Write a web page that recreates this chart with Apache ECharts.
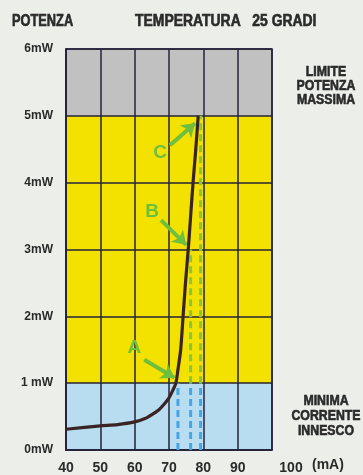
<!DOCTYPE html>
<html>
<head>
<meta charset="utf-8">
<script src="https://cdn.jsdelivr.net/npm/echarts@6/dist/echarts.min.js"></script>
<style>
html,body{margin:0;padding:0;background:#eceee9;}
#c{width:363px;height:475px;}
</style>
</head>
<body>
<div id="c"></div>
<script>
// ---- data ----
const xTicks = [40, 50, 60, 70, 80, 90, 100];
const yTickLabels = ['0mW', '1 mW', '2mW', '3mW', '4mW', '5mW', '6mW'];
const bandLimits = [0, 1, 5, 6];            // mW: blue / yellow / grey zones
const curveMA = [40, 50, 55, 60, 63, 65, 67, 68.5, 70, 71, 72, 72.6, 73.4, 74.1, 74.8, 75.6, 76.3, 77.0, 77.8, 78.5];
const curveMW = [0.31, 0.36, 0.38, 0.42, 0.47, 0.53, 0.6, 0.68, 0.78, 0.88, 1.0, 1.2, 1.5, 2.0, 2.5, 3.0, 3.5, 4.0, 4.5, 5.0];
const dropMA = [72.6, 76.3, 79.2];          // dashed drop lines A, B, C
const dropTopMW = [1.0, 3.0, 5.0];
const markNames = ['A', 'B', 'C'];
const markLabelMA = [59.9, 65.1, 67.4];
const markLabelMW = [1.53, 3.56, 4.44];
const arrowFromMA = [62.8, 67.7, 70.3];
const arrowFromMW = [1.35, 3.44, 4.56];
const arrowToMA = [71.6, 75.0, 77.6];
const arrowToMW = [1.08, 3.07, 4.89];
const arrowCurve = [0, 0, 0.4];
const sideLabels = ['LIMITE\nPOTENZA\nMASSIMA', 'MINIMA\nCORRENTE\nINNESCO'];

// ---- styles ----
const FONT = '"Liberation Sans",Arial,sans-serif';
const INK = '#2a2a2a';
const GRIDC = '#24223a';
const bandColors = ['#b9ddf0', '#f3e200', '#c1c1c1'];
const GREEN = '#6fbf3f';
const BLUE = '#45a6e4';
const DGREEN = '#86c53c';

const chart = echarts.init(document.getElementById('c'), null, {renderer: 'canvas'});

const series = [];

// bands
const bandAreas = [];
for (let i = 0; i < bandLimits.length - 1; i++) {
  bandAreas.push([
    {yAxis: bandLimits[i], xAxis: xTicks[0], itemStyle: {color: bandColors[i]}},
    {yAxis: bandLimits[i + 1], xAxis: xTicks[xTicks.length - 1]}
  ]);
}
series.push({
  type: 'line', z: 1, data: [[xTicks[0], 0]], showSymbol: false, silent: true,
  lineStyle: {opacity: 0},
  markArea: {silent: true, data: bandAreas, itemStyle: {opacity: 1}}
});

// dashed drop lines
for (let i = 0; i < dropMA.length; i++) {
  const blueTop = Math.min(dropTopMW[i], bandLimits[1]);
  series.push({
    type: 'line', z: 4, silent: true, showSymbol: false,
    data: [[dropMA[i], 0], [dropMA[i], blueTop]],
    lineStyle: {color: BLUE, width: 3, type: [7, 4]}
  });
  if (dropTopMW[i] > bandLimits[1]) {
    series.push({
      type: 'line', z: 4, silent: true, showSymbol: false,
      data: [[dropMA[i], bandLimits[1]], [dropMA[i], dropTopMW[i]]],
      lineStyle: {color: DGREEN, width: 3, type: [7, 4]}
    });
  }
}

// main curve
series.push({
  type: 'line', z: 5, silent: true, showSymbol: false, smooth: 0.25,
  data: curveMA.map((x, i) => [x, curveMW[i]]),
  lineStyle: {color: '#3a2323', width: 3.2}
});

// arrows (one series each so each can have its own curvature)
markNames.forEach((n, i) => {
  series.push({
    type: 'line', z: 6, silent: true, data: [], showSymbol: false,
    markLine: {
      silent: true, symbol: ['none', 'arrow'], symbolSize: [13, 13],
      label: {show: false},
      lineStyle: {color: GREEN, width: 4, type: 'solid', curveness: arrowCurve[i]},
      data: [[{coord: [arrowFromMA[i], arrowFromMW[i]]}, {coord: [arrowToMA[i], arrowToMW[i]]}]]
    }
  });
});

// A, B, C labels
series.push({
  type: 'scatter', z: 6, silent: true, symbolSize: 1, itemStyle: {color: 'rgba(0,0,0,0)'},
  data: markNames.map((n, i) => ({name: n, value: [markLabelMA[i], markLabelMW[i]]})),
  label: {
    show: true, position: 'inside', formatter: '{b}', color: GREEN, opacity: 1,
    fontFamily: '"Liberation Sans","DejaVu Sans",Arial,sans-serif', fontWeight: 'bold', fontSize: 19
  }
});

const txt = (text, x, y, size, scaleX, align, lineHeight) => ({
  type: 'text', x: x, y: y, scaleX: scaleX, silent: true,
  style: {text: text, fontFamily: FONT, fontWeight: 'bold', fontSize: size, fill: INK,
          stroke: INK, lineWidth: 0.6,
          align: align, verticalAlign: 'middle', lineHeight: lineHeight}
});

const option = {
  backgroundColor: '#eceee9',
  animation: false,
  grid: {left: 66, right: 91, top: 49, bottom: 25, show: true, z: 3,
         backgroundColor: 'transparent', borderColor: GRIDC, borderWidth: 1.5},
  xAxis: {
    type: 'value', min: 40, max: 100, interval: 10, z: 3,
    name: '(mA)', nameLocation: 'end', nameGap: 40,
    nameTextStyle: {fontFamily: FONT, fontWeight: 'bold', fontSize: 14, color: INK, verticalAlign: 'top', padding: [8, 0, 0, 0]},
    axisLine: {show: true, lineStyle: {color: GRIDC, width: 1.5}},
    axisTick: {show: false},
    splitLine: {show: true, lineStyle: {color: GRIDC, width: 1.5}},
    axisLabel: {
      margin: 11, fontFamily: FONT, fontWeight: 'bold', fontSize: 14, color: INK,
      formatter: v => v === xTicks[xTicks.length - 1] ? '{far|' + v + '}' : String(v),
      rich: {far: {padding: [0, 0, 0, 38], fontFamily: FONT, fontWeight: 'bold', fontSize: 14, color: INK}}
    }
  },
  yAxis: {
    type: 'value', min: 0, max: 6, interval: 1, z: 3,
    axisLine: {show: true, lineStyle: {color: GRIDC, width: 1.5}},
    axisTick: {show: false},
    splitLine: {show: true, lineStyle: {color: GRIDC, width: 1.5}},
    axisLabel: {
      margin: 13, fontFamily: FONT, fontWeight: 'bold', fontSize: 12, color: INK,
      formatter: v => yTickLabels[v]
    }
  },
  graphic: [
    txt('POTENZA', 12, 21.5, 16, 0.8, 'left', 16),
    txt('TEMPERATURA   25 GRADI', 135, 21.5, 16, 0.87, 'left', 16),
    txt(sideLabels[0], 326, 86, 14, 0.88, 'center', 14),
    txt(sideLabels[1], 326, 416, 14, 0.88, 'center', 15)
  ],
  series: series
};
chart.setOption(option);
</script>
</body>
</html>
